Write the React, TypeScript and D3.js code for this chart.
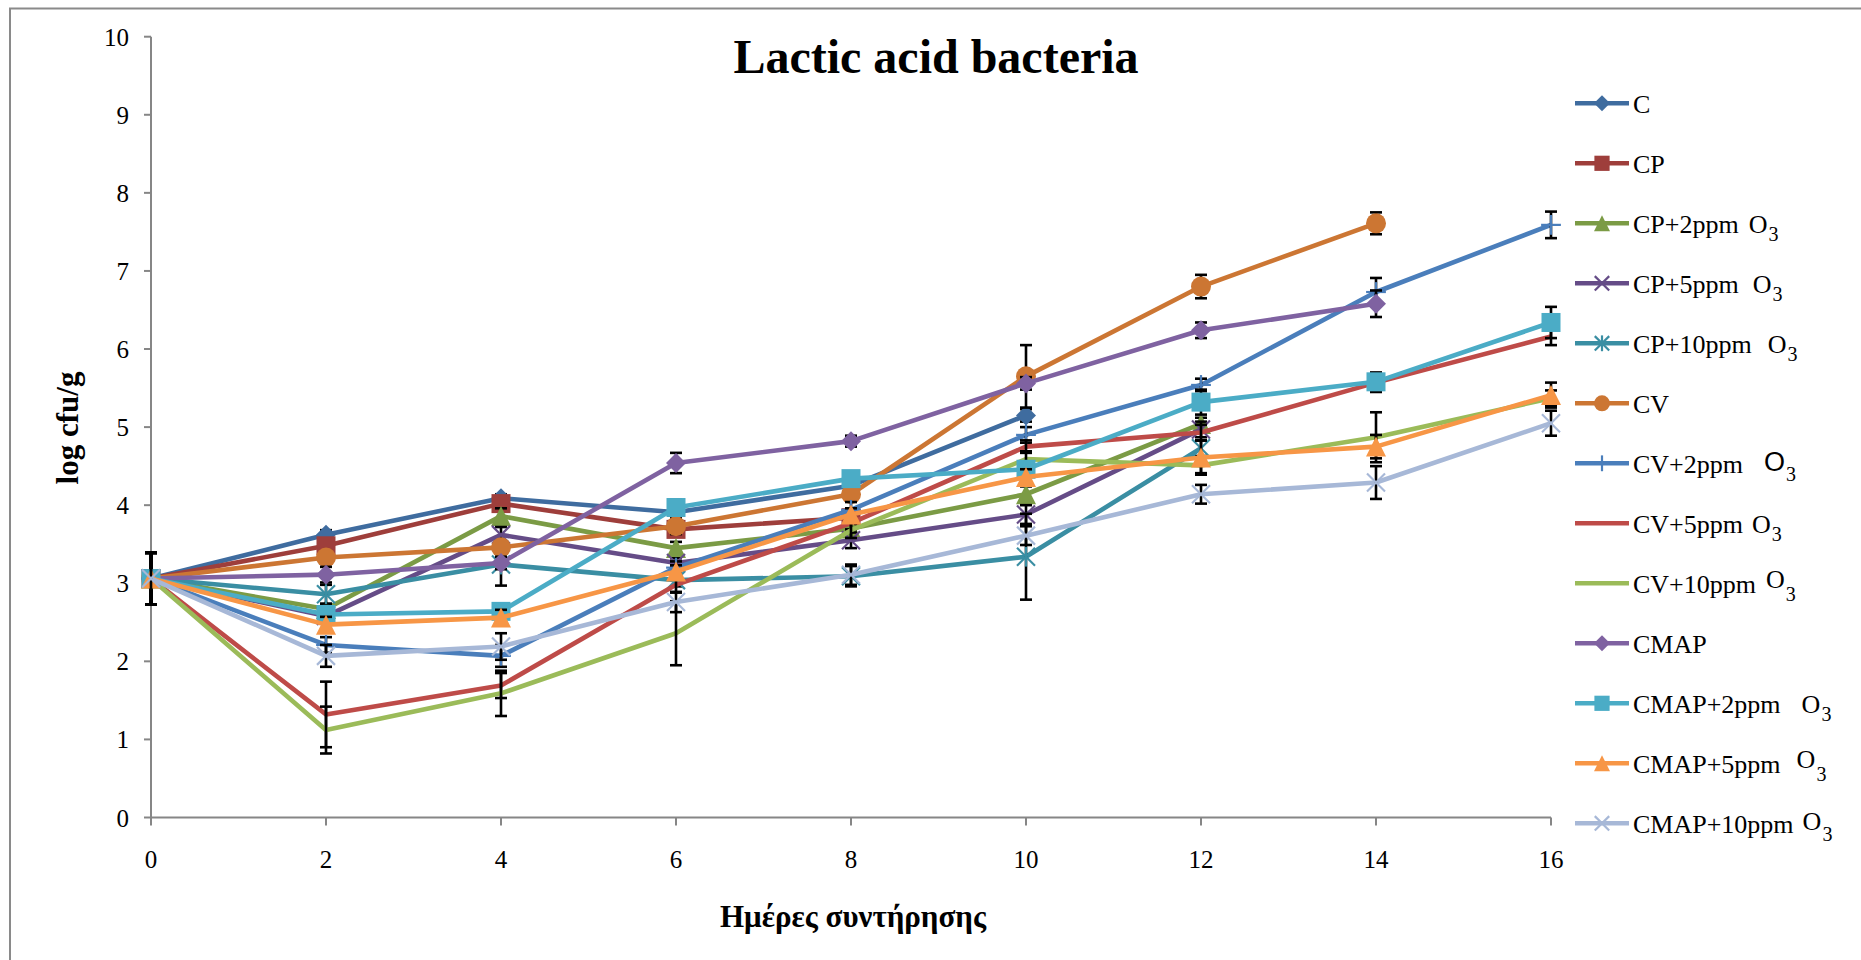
import React from "react";
import * as d3 from "d3";

// Storage days (x) and y-axis ticks
const days = [0, 2, 4, 6, 8, 10, 12, 14, 16];
const yTicks = [0, 1, 2, 3, 4, 5, 6, 7, 8, 9, 10];

// Mean log cfu/g per treatment (null = not sampled)
const valC = [3.06, 3.62, 4.09, 3.91, 4.25, 5.15, null, null, null];
const valCP = [3.06, 3.48, 4.02, 3.69, 3.84, null, null, null, null];
const valCP2 = [3.06, 2.67, 3.86, 3.45, 3.7, 4.14, 5.04, null, null];
const valCP5 = [3.06, 2.58, 3.62, 3.26, 3.55, 3.88, 4.97, null, null];
const valCP10 = [3.06, 2.86, 3.24, 3.04, 3.09, 3.34, 4.73, null, null];
const valCV = [3.06, 3.33, 3.46, 3.73, 4.14, 5.65, 6.8, 7.61, null];
const valCV2 = [3.06, 2.21, 2.07, 3.2, 3.94, 4.9, 5.54, 6.73, 7.59];
const valCV5 = [3.06, 1.32, 1.69, 2.98, 3.77, 4.75, 4.93, 5.57, 6.16];
const valCV10 = [3.06, 1.12, 1.59, 2.36, 3.68, 4.59, 4.51, 4.87, 5.37];
const valCMAP = [3.06, 3.11, 3.26, 4.54, 4.82, 5.56, 6.24, 6.58, null];
const valCMAP2 = [3.06, 2.6, 2.64, 3.97, 4.34, 4.46, 5.32, 5.58, 6.34];
const valCMAP5 = [3.06, 2.47, 2.56, 3.15, 3.88, 4.36, 4.61, 4.75, 5.41];
const valCMAP10 = [3.06, 2.07, 2.19, 2.76, 3.11, 3.61, 4.14, 4.29, 5.05];

// Standard deviations
const errC = [0.33, 0.06, 0.05, 0.05, 0.05, 0.08, null, null, null];
const errCP = [0.33, 0.05, 0.06, 0.08, 0.05, null, null, null, null];
const errCP2 = [0.33, 0.06, 0.1, 0.08, 0.06, 0.1, 0.08, null, null];
const errCP5 = [0.33, 0.06, 0.1, 0.06, 0.1, 0.12, 0.1, null, null];
const errCP10 = [0.33, 0.12, 0.27, 0.08, 0.13, 0.55, 0.1, null, null];
const errCV = [0.33, 0.08, 0.06, 0.1, 0.06, 0.4, 0.15, 0.14, null];
const errCV2 = [0.33, 0.1, 0.14, 0.08, 0.1, 0.1, 0.08, 0.18, 0.17];
const errCV5 = [0.33, 0.42, 0.16, 0.1, 0.08, 0.08, 0.1, 0.12, 0.11];
const errCV10 = [0.33, 0.3, 0.29, 0.41, 0.1, 0.1, 0.1, 0.32, 0.1];
const errCMAP = [0.33, 0.1, 0.08, 0.13, 0.07, 0.08, 0.1, 0.17, null];
const errCMAP2 = [0.33, 0.06, 0.1, 0.1, 0.06, 0.08, 0.16, 0.12, 0.2];
const errCMAP5 = [0.33, 0.1, 0.1, 0.08, 0.08, 0.1, 0.22, 0.15, 0.16];
const errCMAP10 = [0.33, 0.14, 0.17, 0.13, 0.13, 0.12, 0.12, 0.21, 0.16];

const seriesNames = [
  "C", "CP", "CP+2ppm", "CP+5ppm", "CP+10ppm", "CV", "CV+2ppm", "CV+5ppm",
  "CV+10ppm", "CMAP", "CMAP+2ppm", "CMAP+5ppm", "CMAP+10ppm",
];
const seriesOzone = [false, false, true, true, true, false, true, true, true, false, true, true, true];
const seriesValues = [valC, valCP, valCP2, valCP5, valCP10, valCV, valCV2, valCV5, valCV10, valCMAP, valCMAP2, valCMAP5, valCMAP10];
const seriesErrors = [errC, errCP, errCP2, errCP5, errCP10, errCV, errCV2, errCV5, errCV10, errCMAP, errCMAP2, errCMAP5, errCMAP10];

// Styles
const seriesColors = [
  "#3F6C9F", "#9E3E3B", "#7B9B45", "#654C87", "#3A8EA3", "#CC7633", "#4A7EBB",
  "#BE4B48", "#9BBB59", "#7F62A1", "#4BACC6", "#F79646", "#A7B8D7",
];
const seriesMarkers = [
  "diamond", "square", "triangle", "x", "star", "circle", "plus", "none",
  "none", "diamond", "square", "triangle", "x",
];
// legend "O3" placement: gap after the base text, rise, sans glyph
const ozoneGap = [0, 0, 10, 14, 16, 0, 21, 9, 10, 0, 21, 16, 9];
const ozoneRise = [0, 0, 0, 0, 0, 0, 2, 0, 5, 0, 0, 5, 3];
const ozoneSans = [false, false, false, false, false, false, true, false, false, false, false, false, false];

const W = 1861;
const H = 960;
const serif = "'Liberation Serif', 'Times New Roman', serif";
const axisColor = "#868686";

const x = d3.scaleLinear().domain([0, 16]).range([151, 1551]);
const y = d3.scaleLinear().domain([0, 10]).range([817.5, 36.7]);

function Marker({ type, cx, cy, color, s = 1 }: { type: string; cx: number; cy: number; color: string; s?: number }) {
  if (type === "diamond") {
    const w = 10 * s, h = 10 * s;
    return <polygon points={`${cx},${cy - h} ${cx + w},${cy} ${cx},${cy + h} ${cx - w},${cy}`} fill={color} />;
  }
  if (type === "square") {
    const r = 9.5 * s;
    return <rect x={cx - r} y={cy - r} width={2 * r} height={2 * r} fill={color} />;
  }
  if (type === "circle") {
    return <circle cx={cx} cy={cy} r={10 * s} fill={color} />;
  }
  if (type === "triangle") {
    const w = 10 * s, h = 10 * s;
    return <polygon points={`${cx},${cy - h} ${cx + w},${cy + h} ${cx - w},${cy + h}`} fill={color} />;
  }
  if (type === "x" || type === "star" || type === "plus") {
    const r = 9 * s;
    return (
      <g stroke={color} strokeWidth={2.2} fill="none">
        {type !== "plus" && (
          <>
            <line x1={cx - r} y1={cy - r} x2={cx + r} y2={cy + r} />
            <line x1={cx - r} y1={cy + r} x2={cx + r} y2={cy - r} />
          </>
        )}
        {(type === "star" || type === "plus") && <line x1={cx} y1={cy - r * 1.1} x2={cx} y2={cy + r * 1.1} />}
        {type === "plus" && <line x1={cx - r * 1.1} y1={cy} x2={cx + r * 1.1} y2={cy} />}
      </g>
    );
  }
  return null;
}

export default function App() {
  const series = seriesNames.map((name, i) => ({
    name,
    color: seriesColors[i],
    marker: seriesMarkers[i],
    points: days
      .map((d, j) => ({ d, v: seriesValues[i][j] as number | null, e: seriesErrors[i][j] as number | null }))
      .filter((p) => p.v !== null) as { d: number; v: number; e: number | null }[],
  }));

  const line = d3
    .line<{ d: number; v: number }>()
    .x((p) => x(p.d))
    .y((p) => y(p.v));

  return (
    <div style={{ position: "absolute", left: 0, top: 0 }}>
      <svg width={W} height={H} style={{ display: "block", background: "#fff" }}>
        <rect x={0} y={0} width={W} height={H} fill="#fff" />
        {/* chart area border */}
        <rect x={10} y={8.5} width={W + 40} height={H + 40} fill="none" stroke="#8a8a8a" strokeWidth={2} />

        {/* title */}
        <text x={936} y={73} textAnchor="middle" fontFamily={serif} fontWeight="bold" fontSize={48}>
          Lactic acid bacteria
        </text>

        {/* y axis */}
        <line x1={x(0)} y1={y(0)} x2={x(0)} y2={y(10)} stroke={axisColor} strokeWidth={2} />
        {yTicks.map((t) => (
          <g key={`yt${t}`}>
            <line x1={x(0) - 7} x2={x(0)} y1={y(t)} y2={y(t)} stroke={axisColor} strokeWidth={2} />
            <text x={129} y={y(t) + 9} textAnchor="end" fontFamily={serif} fontSize={25}>
              {t}
            </text>
          </g>
        ))}

        {/* x axis */}
        <line x1={x(0)} y1={y(0)} x2={x(16)} y2={y(0)} stroke={axisColor} strokeWidth={2} />
        {days.map((d) => (
          <g key={`xt${d}`}>
            <line x1={x(d)} x2={x(d)} y1={y(0)} y2={y(0) + 8} stroke={axisColor} strokeWidth={2} />
            <text x={x(d)} y={868} textAnchor="middle" fontFamily={serif} fontSize={25}>
              {d}
            </text>
          </g>
        ))}

        {/* axis titles */}
        <text x={853} y={927} textAnchor="middle" fontFamily={serif} fontWeight="bold" fontSize={31}>
          Ημέρες συντήρησης
        </text>
        <text
          transform="translate(78,428) rotate(-90)"
          textAnchor="middle"
          fontFamily={serif}
          fontWeight="bold"
          fontSize={31}
        >
          log cfu/g
        </text>

        {/* series */}
        {series.map((s) => (
          <g key={s.name}>
            <path d={line(s.points) ?? ""} fill="none" stroke={s.color} strokeWidth={4.6} strokeLinejoin="round" />
            <g stroke="#000" strokeWidth={2.6}>
              {s.points
                .filter((p) => p.e !== null)
                .map((p) => {
                  const cx = x(p.d);
                  const top = y(p.v + (p.e as number));
                  const bot = y(p.v - (p.e as number));
                  return (
                    <g key={`e${p.d}`}>
                      <line x1={cx} x2={cx} y1={top} y2={bot} />
                      <line x1={cx - 6} x2={cx + 6} y1={top} y2={top} />
                      <line x1={cx - 6} x2={cx + 6} y1={bot} y2={bot} />
                    </g>
                  );
                })}
            </g>
            {s.points.map((p) => (
              <Marker key={`m${p.d}`} type={s.marker} cx={x(p.d)} cy={y(p.v)} color={s.color} />
            ))}
          </g>
        ))}

        {/* legend */}
        {series.map((s, i) => {
          const cy = 103.3 + 60 * i;
          return (
            <g key={`lg${s.name}`}>
              <line x1={1575} x2={1629} y1={cy} y2={cy} stroke={s.color} strokeWidth={4.4} />
              <Marker type={s.marker} cx={1602} cy={cy} color={s.color} s={0.8} />
              <text x={1633} y={cy + 10} fontFamily={serif} fontSize={26}>
                {s.name}
                {seriesOzone[i] && (
                  <>
                    <tspan
                      dx={ozoneGap[i]}
                      dy={-ozoneRise[i]}
                      fontFamily={ozoneSans[i] ? "'Liberation Sans', Arial, sans-serif" : serif}
                      fontSize={ozoneSans[i] ? 27 : 26}
                    >
                      O
                    </tspan>
                    <tspan dx={1} dy={ozoneRise[i] + 8} fontSize={20}>
                      3
                    </tspan>
                  </>
                )}
              </text>
            </g>
          );
        })}
      </svg>
    </div>
  );
}
